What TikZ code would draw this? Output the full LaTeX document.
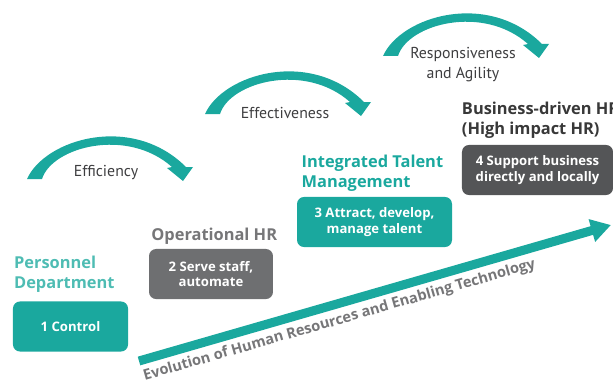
\documentclass[tikz,border=0pt]{standalone}
\usepackage{fontspec}
\setmainfont{Open Sans}
\newfontfamily\narrowfont{PT Sans}
\usetikzlibrary{arrows.meta,positioning}

\definecolor{hrteal}{RGB}{26,168,158}
\definecolor{hrlightteal}{RGB}{78,188,179}
\definecolor{hrgray}{RGB}{110,111,113}
\definecolor{hrdark}{RGB}{84,85,87}
\definecolor{hrtitlegray}{RGB}{118,118,120}
\definecolor{hrtext}{RGB}{62,62,64}

\tikzset{
  stagebox/.style={rounded corners=6pt, minimum height=42.7pt, inner sep=0pt,
    align=center, text=white, font=\bfseries\fontsize{11.2}{13.5}\selectfont},
  stagetitle/.style={align=left, inner sep=0pt,
    font=\bfseries\fontsize{14}{17}\selectfont},
  arclabel/.style={align=center, text=hrtext,
    font=\narrowfont\fontsize{13.5}{16.5}\selectfont}
}

\begin{document}
\begin{tikzpicture}[x=0.03cm,y=0.03cm]
\useasboundingbox (0,0) rectangle (613,382);

\foreach \dx/\dy in {27/203, 205/268, 383/326}
	{\fill[hrteal, shift={(\dx,\dy)}] (0,0) .. controls (18,40) and (105,66) .. (159,12)
		-- (166,12) -- (156,-2) -- (140,11) -- (145,12)
		.. controls (100,52) and (25,32) .. (15,0) -- cycle;};

\node[arclabel] (efficiency) at (106,209) {Efficiency};
\node[arclabel] (effectiveness) at (285,269) {Effectiveness};
\node[arclabel] (agility) at (463,317.5) {Responsiveness\\and Agility};

\node[stagebox, fill=hrteal, minimum width=98.2pt] (control) at (70.5,55.5) {1 Control};
\node[stagebox, fill=hrgray, minimum width=105.8pt] (serve) at (211,108) {2 Serve staff,\\automate};
\node[stagebox, fill=hrteal, minimum width=132.3pt] (talent) at (374.5,160) {3 Attract, develop,\\manage talent};
\node[stagebox, fill=hrdark, minimum width=128.9pt] (support) at (537.5,212) {4 Support business\\directly and locally};

\node[stagetitle, text=hrlightteal, above right=7pt and 1pt of control.north west] (personnel) {Personnel\\Department};
\node[stagetitle, text=hrtitlegray, above right=3.5pt and 2pt of serve.north west] (operational) {Operational HR};
\node[stagetitle, text=hrteal, above right=4.3pt and 4pt of talent.north west] (integrated) {Integrated Talent\\Management};
\node[stagetitle, text=black!78, above right=5pt and 0pt of support.north west] (business) {Business-driven HR\\(High impact HR)};

\coordinate (evostart) at (139,21);
\coordinate (evoend) at (611,157);
\draw[hrteal, line width=7.7pt, -{Triangle[length=17pt, width=19pt]}] (evostart) -- (evoend)
	node[pos=0.415, below=3pt, sloped, inner sep=1pt, text=hrtitlegray, font=\bfseries\fontsize{12.5}{15}\selectfont] (evolution)
	{Evolution of Human Resources and Enabling Technology};
\end{tikzpicture}
\end{document}
